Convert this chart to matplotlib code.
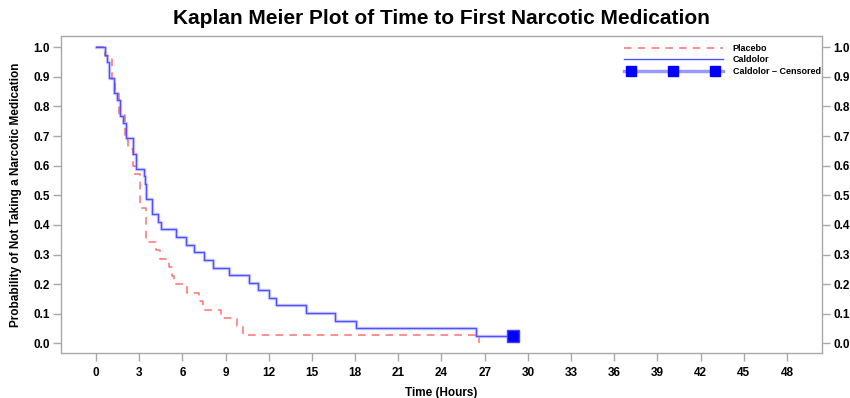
import matplotlib
matplotlib.use("Agg")
import matplotlib.pyplot as plt
from matplotlib.lines import Line2D
from matplotlib.legend_handler import HandlerBase
import numpy as np

plt.rcParams['font.family'] = ['Liberation Sans', 'DejaVu Sans']

# Caldolor Kaplan-Meier steps (time in hours, survival after step)
cald_time = [0.0, 0.62, 0.74, 0.90, 1.25, 1.43, 1.64, 1.88, 2.08, 2.60, 2.80, 3.30, 3.38, 3.45,
             3.87, 4.28, 4.53, 5.55, 6.23, 6.80, 7.52, 8.12, 9.27, 10.66, 11.25, 12.02, 12.50,
             14.58, 16.57, 18.06, 26.40, 29.0]
cald_surv = [1.000, 0.974, 0.949, 0.897, 0.846, 0.821, 0.769, 0.744, 0.692, 0.641, 0.590, 0.564,
             0.538, 0.487, 0.436, 0.410, 0.385, 0.359, 0.333, 0.308, 0.282, 0.256, 0.231, 0.205,
             0.179, 0.154, 0.128, 0.103, 0.077, 0.051, 0.026, 0.026]
cens_time = [29.0]
cens_surv = [0.026]

# Placebo Kaplan-Meier steps
plac_time = [0.0, 0.65, 1.10, 1.35, 1.60, 2.00, 2.20, 2.60, 2.70, 3.05, 3.45, 4.15, 4.45, 5.10,
             5.30, 5.45, 6.30, 7.17, 7.40, 8.68, 9.77, 10.20, 26.60]
plac_surv = [1.000, 0.971, 0.886, 0.857, 0.771, 0.686, 0.657, 0.600, 0.571, 0.457, 0.343, 0.314,
             0.286, 0.257, 0.229, 0.200, 0.171, 0.143, 0.114, 0.086, 0.057, 0.029, 0.000]

xticks = list(range(0, 49, 3))
yticks = [round(0.1 * i, 1) for i in range(11)]

fig = plt.figure(figsize=(8.5, 3.98), dpi=100)
ax = fig.add_axes([0.0718, 0.113, 0.8952, 0.7965])

red = '#ff7070'
blue = '#5050ff'

ax.step(plac_time, plac_surv, where='post', color=red, lw=1.1, ls=(0, (5, 4)))
ax.step(cald_time, cald_surv, where='post', color=blue, lw=1.0)
ax.step(cald_time, cald_surv, where='post', color=blue, lw=2.5, alpha=0.25)
ax.plot(cens_time, cens_surv, ls='none', marker='s', ms=9, color='#0000ff', mec='#4040ff')

ax.set_xlim(-2.43, 50.43)
ax.set_ylim(-0.0327, 1.038)
ax.set_xticks(xticks)
ax.set_xticklabels([str(t) for t in xticks])
ax.set_yticks(yticks)
ax.set_yticklabels([f"{v:.1f}" for v in yticks])

grey = '#a8a8a8'
for s in ax.spines.values():
    s.set_color(grey)
    s.set_linewidth(1.0)
ax.tick_params(axis='both', colors=grey, length=6, width=1, labelsize=8.5, labelcolor='black', pad=2)
ax.tick_params(axis='x', pad=4)
ax.tick_params(axis='y', right=True, labelright=True)
for lab in ax.get_xticklabels() + ax.get_yticklabels():
    lab.set_fontweight('bold')
for t in ax.yaxis.get_major_ticks():
    t.label2.set_fontweight('bold')

ax.set_xlabel('Time (Hours)', fontsize=8.5, fontweight='bold', labelpad=6)
ax.set_ylabel('Probability of Not Taking a Narcotic Medication', fontsize=8.5, fontweight='bold', labelpad=8)
ax.set_title('Kaplan Meier Plot of Time to First Narcotic Medication', fontsize=15,
             fontweight='bold', pad=9)


class CensHandler(HandlerBase):
    def create_artists(self, legend, orig, xdescent, ydescent, width, height, fontsize, trans):
        y = (height - ydescent) / 2
        x0 = -xdescent
        xs = [x0, x0 + 0.08 * width, x0 + 0.5 * width, x0 + 0.92 * width, x0 + width]
        ln = Line2D(xs, [y] * len(xs), color='#9a9aff', lw=2.5, marker='s', ms=7,
                    mfc='#0000ff', mec='#0000ff', markevery=[1, 2, 3])
        ln.set_transform(trans)
        return [ln]


cens_handle = Line2D([], [], color='#9a9aff')
handles = [
    Line2D([], [], color=red, lw=1.1, ls=(0, (5, 4))),
    Line2D([], [], color=blue, lw=1.0),
    cens_handle,
]
leg = ax.legend(handles, ['Placebo', 'Caldolor', 'Caldolor \u2013 Censored'], loc='upper right',
                bbox_to_anchor=(1.005, 0.99),
                frameon=False, handlelength=11, borderaxespad=0.15, labelspacing=0.25,
                handletextpad=1.1, prop={'weight': 'bold', 'size': 6.5},
                handler_map={cens_handle: CensHandler()})

fig.savefig('out.png', dpi=100)
